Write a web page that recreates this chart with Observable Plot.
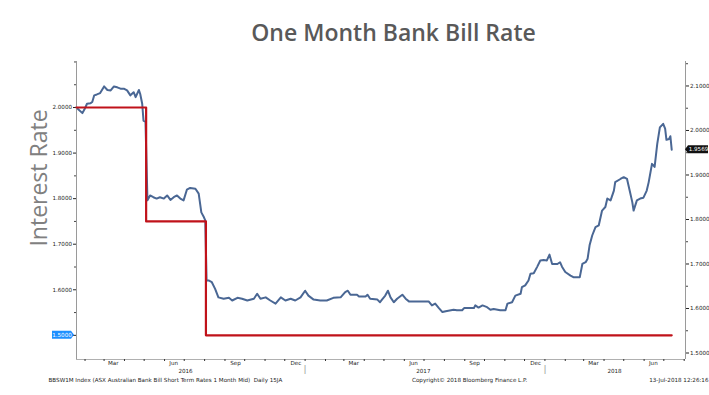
<!DOCTYPE html>
<html><head><meta charset="utf-8">
<script src="https://cdn.jsdelivr.net/npm/d3@7"></script>
<script src="https://cdn.jsdelivr.net/npm/@observablehq/plot@0.6"></script>
<style>
html,body{margin:0;padding:0;background:#fff;}
#wrap{position:relative;width:709px;height:395px;overflow:hidden;background:#fff;}
#wrap svg{position:absolute;left:0;top:0;}
#title{position:absolute;left:0;top:21px;width:787px;text-align:center;font:600 23px "Open Sans",sans-serif;line-height:1;color:#595959;white-space:nowrap;}
#ylab{position:absolute;left:-63px;top:163px;width:200px;height:30px;line-height:30px;text-align:center;font:400 23px "Open Sans",sans-serif;color:#808080;transform:rotate(-90deg);white-space:nowrap;}
</style></head><body><div id="wrap"><div id="title">One Month Bank Bill Rate</div><div id="ylab">Interest Rate</div></div>
<script>
// ---- data ----
const bbswDates = ["2016-01-19","2016-01-22","2016-01-28","2016-01-31","2016-02-04","2016-02-09","2016-02-12","2016-02-15","2016-02-19","2016-02-24",
"2016-03-01","2016-03-06","2016-03-11","2016-03-16","2016-03-21","2016-03-26","2016-03-31","2016-04-05","2016-04-10","2016-04-15",
"2016-04-18","2016-04-23","2016-04-25","2016-04-28","2016-04-30","2016-05-03","2016-05-06","2016-05-10","2016-05-15","2016-05-20",
"2016-05-25","2016-05-31","2016-06-05","2016-06-10","2016-06-15","2016-06-20","2016-06-25","2016-06-30","2016-07-05","2016-07-10",
"2016-07-18","2016-07-23","2016-07-27","2016-07-31","2016-08-02","2016-08-04","2016-08-07","2016-08-12","2016-08-17","2016-08-22",
"2016-08-30","2016-09-07","2016-09-12","2016-09-20","2016-09-27","2016-10-05","2016-10-15","2016-10-20","2016-10-25","2016-11-02",
"2016-11-09","2016-11-17","2016-11-25","2016-12-02","2016-12-10","2016-12-17","2016-12-25","2017-01-01","2017-01-06","2017-01-14",
"2017-01-24","2017-02-03","2017-02-13","2017-02-24","2017-03-03","2017-03-07","2017-03-11","2017-03-21","2017-03-24","2017-04-03",
"2017-04-06","2017-04-10","2017-04-21","2017-04-25","2017-04-28","2017-05-03","2017-05-07","2017-05-11","2017-05-16","2017-05-21",
"2017-05-29","2017-06-03","2017-06-08","2017-06-21","2017-07-08","2017-07-13","2017-07-18","2017-07-23","2017-07-29","2017-08-03",
"2017-08-15","2017-08-20","2017-08-28","2017-08-31","2017-09-15","2017-09-17","2017-09-22","2017-09-28","2017-10-05","2017-10-10",
"2017-10-15","2017-10-25","2017-11-02","2017-11-05","2017-11-12","2017-11-17","2017-11-25","2017-11-27","2017-12-02","2017-12-07",
"2017-12-10","2017-12-15","2017-12-20","2017-12-25","2017-12-30","2018-01-04","2018-01-08","2018-01-12","2018-01-20","2018-01-24",
"2018-01-27","2018-02-01","2018-02-09","2018-02-14","2018-02-23","2018-02-27","2018-03-04","2018-03-07","2018-03-10","2018-03-14",
"2018-03-19","2018-03-24","2018-03-29","2018-04-03","2018-04-06","2018-04-11","2018-04-16","2018-04-18","2018-04-26","2018-05-01",
"2018-05-06","2018-05-10","2018-05-14","2018-05-16","2018-05-21","2018-05-26","2018-05-31","2018-06-05","2018-06-08","2018-06-13",
"2018-06-17","2018-06-21","2018-06-25","2018-06-30","2018-07-03","2018-07-05","2018-07-09","2018-07-11","2018-07-13"];
const bbswValues = [2.052,2.047,2.039,2.047,2.060,2.061,2.064,2.079,2.081,2.084,
2.099,2.091,2.090,2.099,2.097,2.094,2.094,2.090,2.079,2.086,
2.075,2.091,2.082,2.060,2.022,2.019,1.843,1.854,1.850,1.847,
1.850,1.847,1.854,1.844,1.850,1.854,1.847,1.843,1.867,1.871,
1.869,1.858,1.816,1.805,1.798,1.663,1.663,1.659,1.644,1.625,
1.622,1.624,1.618,1.624,1.622,1.618,1.622,1.633,1.622,1.625,
1.618,1.611,1.625,1.618,1.622,1.618,1.625,1.640,1.629,1.620,
1.618,1.618,1.624,1.625,1.637,1.640,1.631,1.631,1.627,1.627,
1.631,1.622,1.620,1.614,1.620,1.629,1.640,1.625,1.614,1.622,
1.631,1.622,1.616,1.616,1.616,1.607,1.611,1.602,1.592,1.594,
1.597,1.596,1.596,1.601,1.601,1.607,1.602,1.607,1.603,1.597,
1.599,1.596,1.596,1.611,1.614,1.629,1.633,1.648,1.652,1.663,
1.678,1.679,1.693,1.708,1.709,1.708,1.721,1.700,1.700,1.704,
1.694,1.682,1.674,1.670,1.670,1.700,1.704,1.712,1.742,1.764,
1.783,1.787,1.820,1.828,1.847,1.843,1.865,1.884,1.891,1.895,
1.891,1.865,1.839,1.820,1.843,1.847,1.849,1.865,1.884,1.925,
1.918,1.970,2.007,2.015,2.004,1.979,1.981,1.987,1.9569];
const cashDates = ["2016-01-19","2016-05-04","2016-08-03","2018-07-13"];
const cashValues = [2.00,1.75,1.50,1.50];

const xDomainStr = ["2016-01-19","2018-08-03"];
const leftDomain = [1.447,2.101];
const rightDomain = [1.4854,2.155];
const leftTicks = [1.5,1.6,1.7,1.8,1.9,2.0];
const leftMinorTicks = [1.55,1.65,1.75,1.85,1.95,2.05,2.1];
const rightTicks = [1.5,1.6,1.7,1.8,1.9,2.0,2.1];
const rightMinorTicks = [1.55,1.65,1.75,1.85,1.95,2.05,2.15];
const monthLabels = ["Mar","Jun","Sep","Dec","Mar","Jun","Sep","Dec","Mar","Jun"];
const monthLabelDates = ["2016-03-15","2016-06-15","2016-09-17","2016-12-18","2017-03-16","2017-06-15","2017-09-16","2017-12-18","2018-03-16","2018-06-15"];
const yearLabels = ["2016","2017","2018"];
const yearLabelDates = ["2016-07-03","2017-06-30","2018-04-17"];
const yearBreakDates = ["2017-01-01","2018-01-01"];
const footerLeft = "BBSW1M Index (ASX Australian Bank Bill Short Term Rates 1 Month Mid)  Daily 15JA";
const footerMid = "Copyright\u00A9 2018 Bloomberg Finance L.P.";
const footerRight = "13-Jul-2018 12:26:16";

// ---- build ----
const parse = d3.utcParse("%Y-%m-%d");
const bbsw = bbswDates.map((d,i)=>({date:parse(d), value:bbswValues[i]}));
const cash = cashDates.map((d,i)=>({date:parse(d), value:cashValues[i]}));
const xDomain = xDomainStr.map(parse);
const monthStarts = d3.utcMonth.range(d3.utcMonth.ceil(xDomain[0]), xDomain[1]);
const monthRows = monthLabelDates.map((d,i)=>({date:parse(d), label:monthLabels[i]}));
const yearRows = yearLabelDates.map((d,i)=>({date:parse(d), label:yearLabels[i]}));
const yearBreaks = yearBreakDates.map(parse);
const fmt4 = d3.format(".4f");

const common = {
  width:709, height:395, marginLeft:76, marginRight:24, marginTop:61, marginBottom:36,
  style:{background:"transparent", fontFamily:"DejaVu Sans", fontSize:"5.6px", color:"#222", overflow:"visible"}
};

// plot A: blue series on right axis
const plotA = Plot.plot({
  ...common,
  x:{type:"utc", domain:xDomain, axis:null},
  y:{domain:rightDomain},
  marks:[
    Plot.axisY({anchor:"right", label:null, ticks:rightTicks, tickFormat:fmt4, tickSize:3, tickPadding:1.5, stroke:"#222"}),
    Plot.axisY({anchor:"right", label:null, ticks:rightMinorTicks, tickFormat:()=>"", tickSize:2, stroke:"#444"}),
    Plot.ruleX([xDomain[1]], {stroke:"#9a9a9a", strokeWidth:1}),
    Plot.line(bbsw, {x:"date", y:"value", stroke:"#4a6794", strokeWidth:2, strokeLinejoin:"round"})
  ]
});

// plot B: red series on left axis, x axis and footer
const plotB = Plot.plot({
  ...common,
  x:{type:"utc", domain:xDomain},
  y:{domain:leftDomain},
  marks:[
    Plot.axisY({anchor:"left", label:null, ticks:leftTicks, tickFormat:fmt4, tickSize:3, tickPadding:1.5, stroke:"#222"}),
    Plot.axisY({anchor:"left", label:null, ticks:leftMinorTicks, tickFormat:()=>"", tickSize:2, stroke:"#444"}),
    Plot.ruleX([xDomain[0]], {stroke:"#9a9a9a", strokeWidth:1}),
    Plot.ruleY([leftDomain[0]], {stroke:"#b0b0b0", strokeWidth:1}),
    Plot.axisX({label:null, ticks:monthStarts, tickFormat:()=>"", tickSize:2, stroke:"#333"}),
    Plot.text(monthRows, {x:"date", text:"label", frameAnchor:"bottom", dy:5.5, fill:"#222"}),
    Plot.text(yearRows, {x:"date", text:"label", frameAnchor:"bottom", dy:13, fill:"#222"}),
    Plot.text(yearBreaks, {x:d=>d, text:()=>"|", frameAnchor:"bottom", dy:12.5, fill:"#9a9a9a", fontSize:9}),
    Plot.text([footerLeft], {text:d=>d, frameAnchor:"bottom-left", textAnchor:"start", dx:-28, dy:22, fill:"#222"}),
    Plot.text([footerMid], {text:d=>d, frameAnchor:"bottom", textAnchor:"start", dx:31, dy:22, fill:"#222"}),
    Plot.text([footerRight], {text:d=>d, frameAnchor:"bottom-right", textAnchor:"end", dx:23, dy:22, fill:"#222"}),
    Plot.line(cash, {x:"date", y:"value", stroke:"#c0121a", strokeWidth:2.2, curve:"step-after"})
  ]
});

const wrap = document.getElementById("wrap");
wrap.appendChild(plotA);
wrap.appendChild(plotB);

function scaleFn(plot, name){
  const s = plot.scale(name);
  if (s && typeof s.apply === "function") return v => s.apply(v);
  return d3.scaleLinear(s.domain, s.range);
}

// last-value tags
const yA = scaleFn(plotA, "y");
const yB = scaleFn(plotB, "y");
const lastBlue = bbswValues[bbswValues.length-1];
const lastRed = cashValues[cashValues.length-1];
{
  const y = yA(lastBlue), x0 = 709 - common.marginRight;
  const g = d3.select(plotA).append("g");
  g.append("path").attr("d", `M${x0},${y} L${x0+3},${y-4} L${x0+23},${y-4} L${x0+23},${y+4} L${x0+3},${y+4} Z`).attr("fill","#111");
  g.append("text").attr("x", x0+13.5).attr("y", y).attr("dy","0.35em").attr("text-anchor","middle").attr("fill","#fff").text(fmt4(lastBlue));
}
{
  const y = yB(lastRed), x0 = common.marginLeft;
  const g = d3.select(plotB).append("g");
  g.append("path").attr("d", `M${x0-2},${y} L${x0-5},${y-4} L${x0-24},${y-4} L${x0-24},${y+4} L${x0-5},${y+4} Z`).attr("fill","#1e90ff");
  g.append("text").attr("x", x0-14).attr("y", y).attr("dy","0.35em").attr("text-anchor","middle").attr("fill","#fff").text(fmt4(lastRed));
}
</script></body></html>
